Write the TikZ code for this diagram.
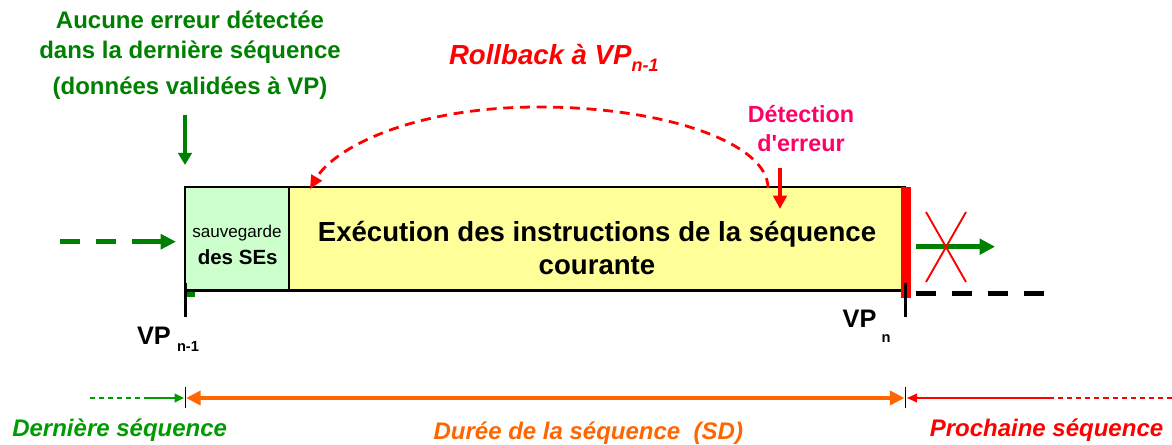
\documentclass[tikz,border=0pt]{standalone}
\usepackage{fontspec}
\setmainfont{Liberation Sans}
\usetikzlibrary{arrows.meta}
\definecolor{dgreen}{RGB}{0,128,0}
\definecolor{lgreen}{RGB}{0,155,0}
\definecolor{boxgreen}{RGB}{204,255,204}
\definecolor{boxyellow}{RGB}{255,255,153}
\definecolor{pinkred}{RGB}{255,0,102}
\definecolor{myorange}{RGB}{255,102,0}
\newcommand\myfs[1]{\fontsize{#1}{#1}\selectfont}
\begin{document}
\begin{tikzpicture}[x=0.75pt,y=-0.75pt,
  every node/.style={inner sep=0pt,outer sep=0pt},
  lbl/.style={anchor=base,font=\bfseries\myfs{18}},
  boxnode/.style={draw=black,line width=0.8pt,anchor=north west,minimum height=78pt},
  tick/.style={black,line width=2.25pt},
  thintick/.style={black,line width=0.75pt},
  bigdash/.style={line width=3.75pt,dash pattern=on 15pt off 12pt}]
\useasboundingbox (0,0) rectangle (1172,445);

% texts top
\node[lbl,text=dgreen] (t1) at (190,28.3) {Aucune erreur détectée};
\node[lbl,text=dgreen] (t2) at (190,58.3) {dans la dernière séquence};
\node[lbl,text=dgreen] (t3) at (190,95) {(données validées à VP)};
\node[anchor=base west,text=red,font=\bfseries\itshape\myfs{20.7}] (rb) at (449,65)
  {Rollback à VP\raisebox{-5pt}{\myfs{13.5}n-1}};
\node[lbl,text=pinkred,font=\bfseries\myfs{17.5}] (d1) at (801,123) {Détection};
\node[lbl,text=pinkred,font=\bfseries\myfs{17.5}] (d2) at (801,151.7) {d\textquotesingle erreur};

% boxes
\node[boxnode,fill=boxgreen,minimum width=78pt] (save) at (185,187) {};
\node[boxnode,fill=boxyellow,minimum width=462pt] (exec) at (289,187) {};
\draw[black,line width=2.25pt] (save.south west) -- (exec.south east);
\node[fill=red,anchor=north west,minimum width=7.5pt,minimum height=83pt] (redbar) at (901,187) {};
\node[fill=dgreen,anchor=north west,minimum width=6pt,minimum height=3.5pt] (gmark) at (187,292.5) {};

\node[anchor=base,font=\myfs{12.8}] (s1) at (237,238) {sauvegarde};
\node[anchor=base,font=\bfseries\myfs{15.4}] (s2) at (237.7,265) {des SEs};
\node[anchor=base,font=\bfseries\myfs{20.7}] (e1) at (597,242) {Exécution des instructions de la séquence};
\node[anchor=base,font=\bfseries\myfs{20.7}] (e2) at (597,275) {courante};

% ticks
\coordinate (tk1a) at (185,283); \coordinate (tk1b) at (185,317);
\coordinate (tk2a) at (905.5,283); \coordinate (tk2b) at (905.5,317);
\draw[tick] (tk1a) -- (tk1b);
\draw[tick] (tk2a) -- (tk2b);

% VP labels
\node[anchor=base west,font=\bfseries\myfs{19}] (vp1) at (137,345) {VP};
\node[anchor=base west,font=\bfseries\myfs{11}] (vp1s) at (177,351.7) {n-1};
\node[anchor=base west,font=\bfseries\myfs{19}] (vp2) at (842.7,328) {VP};
\node[anchor=base west,font=\bfseries\myfs{11}] (vp2s) at (881.7,343) {n};

% green down arrow
\coordinate (ga1) at (185,115); \coordinate (ga2) at (185,165);
\draw[dgreen,line width=2.8pt,-{Triangle[length=9pt,width=10pt]}] (ga1) -- (ga2);

% left dashed green arrow
\coordinate (la0) at (60,241.7); \coordinate (la1) at (133,241.7); \coordinate (la2) at (176,241.7);
\draw[dgreen,bigdash] (la0) -- (la1);
\draw[dgreen,line width=3.75pt,-{Triangle[length=11.5pt,width=11pt]}] (la1) -- (la2);

% right side
\coordinate (ra1) at (916,246.7); \coordinate (ra2) at (995,246.7);
\draw[dgreen,line width=3.75pt,-{Triangle[length=11.5pt,width=11.5pt]}] (ra1) -- (ra2);
\coordinate (x1) at (926,212); \coordinate (x2) at (966,282);
\coordinate (x3) at (966,212); \coordinate (x4) at (926,282);
\draw[red,line width=1.4pt] (x1) -- (x2) (x3) -- (x4);
\coordinate (bd1) at (916,293.3); \coordinate (bd2) at (1050,293.3);
\draw[black,bigdash] (bd1) -- (bd2);

% detection arrow
\coordinate (da1) at (780,168); \coordinate (da2) at (780,209);
\draw[red,line width=3.2pt,-{Triangle[length=10pt,width=10pt]}] (da1) -- (da2);

% rollback curve
\coordinate (rc0) at (768,188); \coordinate (rcm) at (539,107); \coordinate (rc1) at (310,189);
\draw[red,line width=2.1pt,dash pattern=on 7.5pt off 5pt,-{Triangle[length=10pt,width=9pt]}]
  (rc0) .. controls (768,143.3) and (665.5,107) .. (rcm)
        .. controls (412.5,107) and (334,148) .. (rc1);

% bottom timeline
\coordinate (bg0) at (90,398); \coordinate (bg1) at (144,398); \coordinate (bg2) at (184,398);
\draw[lgreen,line width=1.1pt,dash pattern=on 3.8pt off 3pt] (bg0) -- (bg1);
\draw[lgreen,line width=1.1pt,-{Triangle[length=7pt,width=6.5pt]}] (bg1) -- (bg2);
\coordinate (bt1a) at (185,387); \coordinate (bt1b) at (185,408);
\coordinate (bt2a) at (905.5,387); \coordinate (bt2b) at (905.5,408);
\draw[thintick] (bt1a) -- (bt1b);
\draw[thintick] (bt2a) -- (bt2b);
\coordinate (bo1) at (186,398); \coordinate (bo2) at (904.5,398);
\draw[myorange,line width=3.6pt,{Triangle[length=11pt,width=10.5pt]}-{Triangle[length=11pt,width=10.5pt]}] (bo1) -- (bo2);
\coordinate (br0) at (1172,398); \coordinate (br1) at (1053,398); \coordinate (br2) at (907,398);
\draw[red,line width=1.1pt,dash pattern=on 3.8pt off 3pt] (br0) -- (br1);
\draw[red,line width=1.1pt,-{Triangle[length=7.5pt,width=6.5pt]}] (br1) -- (br2);

\node[lbl,text=lgreen,font=\bfseries\itshape\myfs{18}] (b1) at (119.7,436) {Dernière séquence};
\node[lbl,text=myorange,font=\bfseries\itshape\myfs{18}] (b2) at (588.3,440) {Durée de la séquence~~(SD)};
\node[lbl,text=red,font=\bfseries\itshape\myfs{18}] (b3) at (1046.5,436.5) {Prochaine séquence};
\end{tikzpicture}
\end{document}
